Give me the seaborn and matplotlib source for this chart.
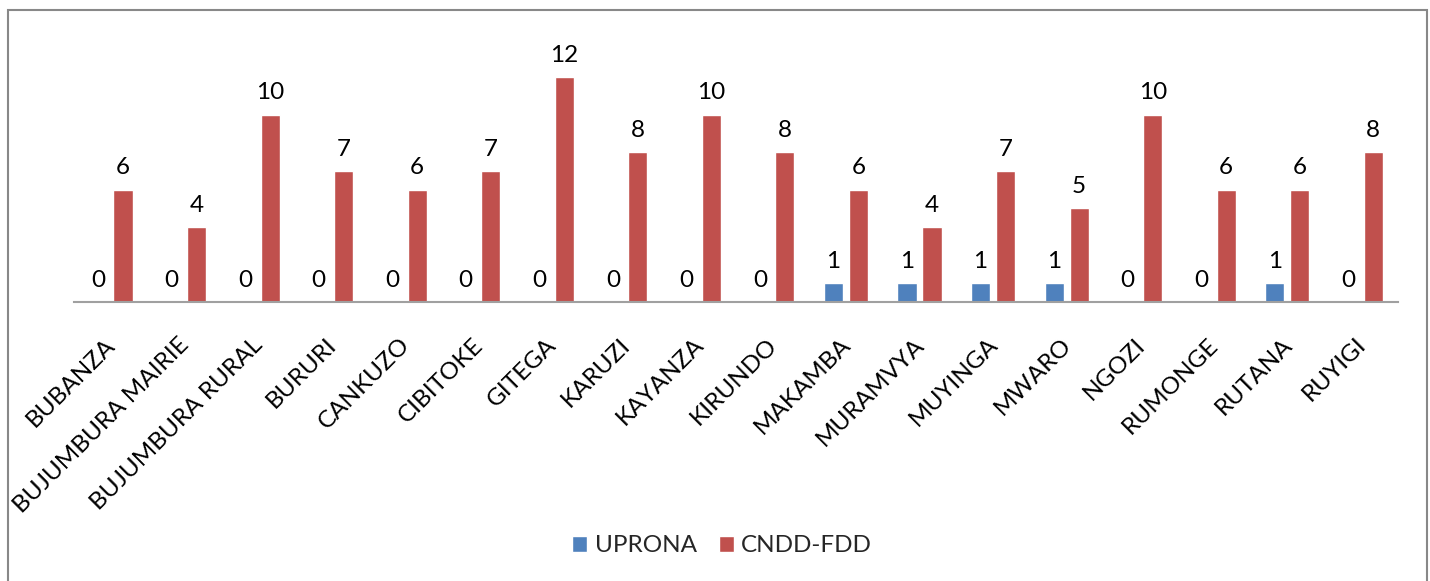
import matplotlib
matplotlib.use("Agg")
import matplotlib.pyplot as plt
import matplotlib.transforms as mtransforms
from matplotlib.patches import Rectangle, Patch
import seaborn as sns
import pandas as pd

provinces = ["BUBANZA", "BUJUMBURA MAIRIE", "BUJUMBURA RURAL", "BURURI", "CANKUZO",
             "CIBITOKE", "GITEGA", "KARUZI", "KAYANZA", "KIRUNDO", "MAKAMBA",
             "MURAMVYA", "MUYINGA", "MWARO", "NGOZI", "RUMONGE", "RUTANA", "RUYIGI"]
uprona = [0, 0, 0, 0, 0, 0, 0, 0, 0, 0, 1, 1, 1, 1, 0, 0, 1, 0]
cndd_fdd = [6, 4, 10, 7, 6, 7, 12, 8, 10, 8, 6, 4, 7, 5, 10, 6, 6, 8]
parties = ["UPRONA", "CNDD-FDD"]
colors = ["#4F81BD", "#C0504D"]

df = pd.DataFrame({
    "province": provinces * 2,
    "party": [parties[0]] * len(provinces) + [parties[1]] * len(provinces),
    "seats": uprona + cndd_fdd,
})

sns.set_style("white")
plt.rcParams["font.family"] = ["Lato", "DejaVu Sans"]

FS = 17.5
W, H = 1430, 581
fig = plt.figure(figsize=(W / 100, H / 100), dpi=100)
ax = fig.add_axes([73.7 / W, 1 - 302 / H, (1397.6 - 73.7) / W, (302 - 39.5) / H])

sns.barplot(data=df, x="province", y="seats", hue="party", hue_order=parties,
            order=provinces, palette=colors, width=0.68, gap=0.235,
            saturation=1, legend=False, ax=ax, errorbar=None)

for c in ax.containers:
    ax.bar_label(c, fmt="%d", padding=8, fontsize=FS, color="black")

ax.set_ylim(0, 14)
ax.set_xlim(-0.5, len(provinces) - 0.5)
ax.set_xlabel("")
ax.set_ylabel("")
ax.set_yticks([])
for s in ["left", "right", "top"]:
    ax.spines[s].set_visible(False)
ax.spines["bottom"].set_color("#A0A0A0")
ax.spines["bottom"].set_linewidth(1.5)
ax.tick_params(axis="x", length=0, pad=13)
ax.set_xticks(range(len(provinces)))
ax.set_xticklabels(provinces, rotation=45, ha="right", rotation_mode="anchor",
                   fontsize=FS, color="black")
shift = mtransforms.ScaledTranslation(-0.06, -0.14, fig.dpi_scale_trans)
for lab in ax.get_xticklabels():
    lab.set_transform(lab.get_transform() + shift)

fig.add_artist(Rectangle((7.5 / W, -0.01), (1426.5 - 7.5) / W, (1 - 9.5 / H) + 0.01,
                         transform=fig.transFigure, fill=False,
                         edgecolor="#888888", linewidth=1.5))

handles = [Patch(facecolor=colors[i], label=parties[i]) for i in range(2)]
fig.legend(handles=handles, loc="center", bbox_to_anchor=(722 / W, 1 - 546 / H),
           ncol=2, frameon=False, fontsize=FS, handlelength=0.62, handleheight=0.62,
           handletextpad=0.3, columnspacing=0.9)

fig.savefig("out.png", dpi=100)
